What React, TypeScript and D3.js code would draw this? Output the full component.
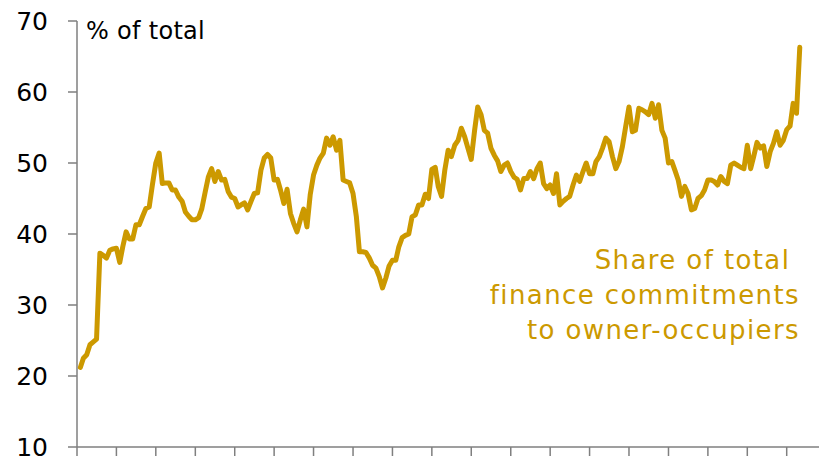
import React, { useEffect, useRef } from 'react';
import * as d3 from 'd3';

// monthly share (%), Feb 2002 .. May 2020
const shareValues = [
  21.2, 22.5, 23.0, 24.4, 24.8, 25.2, 37.3, 37.0, 36.6, 37.7, 37.9, 38.0,
  36.0, 38.2, 40.3, 39.3, 39.3, 41.3, 41.3, 42.5, 43.6, 43.8, 47.0, 50.0,
  51.4, 47.1, 47.2, 47.2, 46.2, 46.2, 45.2, 44.6, 43.1, 42.5, 42.0, 42.0,
  42.3, 43.5, 45.8, 48.0, 49.2, 47.4, 48.8, 47.6, 47.7, 46.0, 45.2, 45.0,
  43.8, 44.1, 44.4, 43.4, 44.6, 45.7, 45.8, 49.0, 50.7, 51.2, 50.7, 47.6,
  47.7, 46.2, 44.3, 46.3, 42.9, 41.5, 40.3, 42.0, 43.5, 41.0, 45.5, 48.3,
  49.7, 50.7, 51.4, 53.5, 52.5, 53.7, 51.8, 53.2, 47.6, 47.4, 47.2, 45.7,
  42.4, 37.5, 37.5, 37.4, 36.6, 35.6, 35.2, 34.0, 32.4, 33.8, 35.5, 36.3,
  36.3, 38.2, 39.5, 39.8, 40.0, 42.4, 42.7, 44.1, 44.1, 45.6, 45.0, 49.1,
  49.4, 46.7, 45.3, 49.0, 51.8, 50.9, 52.5, 53.2, 54.9, 53.7, 52.1, 50.5,
  54.6, 57.9, 56.8, 54.6, 54.2, 52.1, 51.1, 50.3, 48.8, 49.7, 50.0, 48.8,
  48.0, 47.7, 46.2, 47.8, 47.8, 48.8, 47.8, 49.2, 50.0, 47.1, 46.4, 46.9,
  45.7, 48.5, 44.1, 44.6, 45.0, 45.3, 46.9, 48.3, 47.4, 48.8, 50.0, 48.5,
  48.5, 50.2, 50.9, 52.1, 53.5, 53.0, 50.9, 49.2, 50.2, 52.3, 55.1, 57.9,
  54.4, 54.6, 57.7, 57.5, 57.2, 56.8, 58.4, 56.3, 58.2, 54.6, 53.5, 50.0,
  50.2, 49.0, 47.6, 45.3, 46.7, 45.7, 43.4, 43.6, 45.0, 45.4, 46.2, 47.6,
  47.6, 47.4, 46.9, 48.1, 47.4, 47.1, 49.7, 50.0, 49.7, 49.4, 49.2, 52.5,
  49.2, 50.9, 52.9, 52.1, 52.4, 49.5, 51.6, 52.8, 54.4, 52.5, 53.2, 54.7,
  55.2, 58.4, 57.0, 66.3,
];
const yTicks = [10, 20, 30, 40, 50, 60, 70];
const tickYears = d3.range(2002, 2021);
const unitLabel = '% of total';
const seriesLabel = ['Share of total\u00a0', 'finance commitments', 'to owner-occupiers'];

const App: React.FC = () => {
  const ref = useRef<SVGSVGElement>(null);

  useEffect(() => {
    if (!ref.current) return;
    const width = 819;
    const height = 462;
    const left = 77;
    const top = 21;
    const bottom = 447;
    const gold = '#CC9900';
    const axisColor = '#7f7f7f';
    const font = "'DejaVu Sans', sans-serif";

    const svg = d3.select(ref.current);
    svg.selectAll('*').remove();

    const data = shareValues.map((v, i) => ({ date: new Date(2002, i + 1, 1), v }));

    const x = d3.scaleTime()
      .domain([new Date(2002, 0, 1), new Date(2020, 0, 1)])
      .range([left, 786.7]);
    const y = d3.scaleLinear().domain([10, 70]).range([bottom, top]);

    // y axis
    svg.append('line')
      .attr('x1', left).attr('x2', left)
      .attr('y1', top).attr('y2', bottom)
      .attr('stroke', axisColor).attr('stroke-width', 1.5);
    svg.selectAll('.ytick')
      .data(yTicks)
      .enter()
      .append('line')
      .attr('x1', left - 9).attr('x2', left)
      .attr('y1', d => y(d)).attr('y2', d => y(d))
      .attr('stroke', axisColor).attr('stroke-width', 1.5);
    svg.selectAll('.ylab')
      .data(yTicks)
      .enter()
      .append('text')
      .attr('x', 48)
      .attr('y', d => y(d))
      .attr('dy', '0.36em')
      .attr('text-anchor', 'end')
      .attr('font-family', font)
      .attr('font-size', 25)
      .attr('fill', '#000')
      .text(d => d);

    // x axis
    svg.append('line')
      .attr('x1', left).attr('x2', width)
      .attr('y1', bottom).attr('y2', bottom)
      .attr('stroke', axisColor).attr('stroke-width', 1.5);
    svg.selectAll('.xtick')
      .data(tickYears)
      .enter()
      .append('line')
      .attr('x1', d => x(new Date(d, 0, 1))).attr('x2', d => x(new Date(d, 0, 1)))
      .attr('y1', bottom).attr('y2', bottom + 9)
      .attr('stroke', axisColor).attr('stroke-width', 1.5);

    svg.append('text')
      .attr('x', 86)
      .attr('y', 39)
      .attr('font-family', font)
      .attr('font-size', 24)
      .attr('letter-spacing', 0.3)
      .attr('fill', '#000')
      .text(unitLabel);

    const line = d3.line<{ date: Date; v: number }>()
      .x(d => x(d.date))
      .y(d => y(d.v));

    svg.append('path')
      .datum(data)
      .attr('d', line)
      .attr('fill', 'none')
      .attr('stroke', gold)
      .attr('stroke-width', 5)
      .attr('stroke-linejoin', 'round')
      .attr('stroke-linecap', 'round');

    svg.selectAll('.slab')
      .data(seriesLabel)
      .enter()
      .append('text')
      .attr('x', 800)
      .attr('y', (d, i) => 269 + i * 35)
      .attr('text-anchor', 'end')
      .attr('font-family', font)
      .attr('font-size', 26)
      .attr('letter-spacing', 1.4)
      .attr('fill', gold)
      .text(d => d);

    svg.attr('width', width).attr('height', height);
  }, []);

  return (
    <svg
      ref={ref}
      width={819}
      height={462}
      style={{ position: 'fixed', left: 0, top: 0, background: '#fff' }}
    />
  );
};

export default App;
